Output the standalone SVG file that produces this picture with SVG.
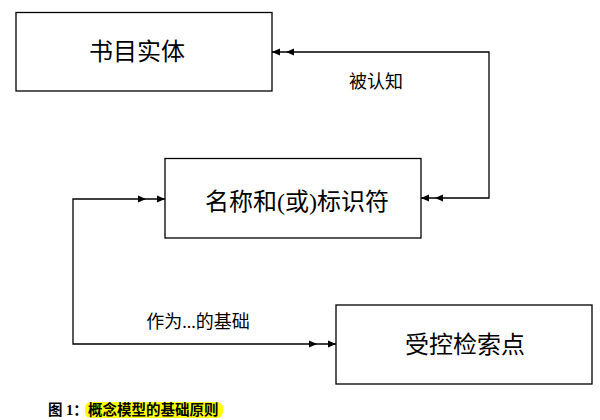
<svg xmlns="http://www.w3.org/2000/svg" width="600" height="420" viewBox="0 0 600 420">
<style>
.box{fill:#fff;stroke:#000;stroke-width:1.3}
.t{font-family:"Liberation Serif","Noto Sans CJK SC",serif;font-size:24px;fill:#000;text-anchor:middle;dominant-baseline:central}
.l{font-family:"Liberation Serif","Noto Sans CJK SC",serif;font-size:18px;fill:#000;text-anchor:middle;dominant-baseline:central}
.c{fill:none;stroke:#000;stroke-width:1.3}
.cap{font-family:"Liberation Serif","Noto Sans CJK SC",serif;font-size:14.5px;font-weight:bold;fill:#000}
</style>
<defs>
<marker id="d14" viewBox="-30 -5 40 10" refX="8" refY="0" markerWidth="40" markerHeight="10" markerUnits="userSpaceOnUse" orient="auto-start-reverse">
<path d="M0,-3.5 L8,0 L0,3.5 Z M-14,-3.5 L-6,0 L-14,3.5 Z" fill="#000"/>
</marker>
<marker id="d19" viewBox="-30 -5 40 10" refX="8" refY="0" markerWidth="40" markerHeight="10" markerUnits="userSpaceOnUse" orient="auto-start-reverse">
<path d="M0,-3.5 L8,0 L0,3.5 Z M-19,-3.5 L-11,0 L-19,3.5 Z" fill="#000"/>
</marker>
</defs>
<g id="connectors">
<path class="c" d="M421,198 H489 V52 H272" marker-start="url(#d14)" marker-end="url(#d14)"/>
<path class="c" d="M165,199 H73 V344 H336" marker-start="url(#d19)" marker-end="url(#d19)"/>
<text class="l" x="376" y="82">被认知</text>
<text class="l" x="198" y="322">作为...的基础</text>
</g>
<g id="node-bib">
<rect class="box" x="16" y="12.5" width="256" height="78.5"/>
<text class="t" x="137" y="52">书目实体</text>
</g>
<g id="node-name">
<rect class="box" x="165" y="158.5" width="256" height="79.5"/>
<text class="t" x="297" y="202">名称和(或)标识符</text>
</g>
<g id="node-access">
<rect class="box" x="336" y="305" width="256" height="79"/>
<text class="t" x="465" y="345">受控检索点</text>
</g>
<g id="caption">
<rect x="85" y="402" width="138" height="16" rx="6" fill="#ffff00"/>
<text class="cap" x="48" y="415">图 1：</text>
<text class="cap" x="88" y="415">概念模型的基础原则</text>
</g>
</svg>
